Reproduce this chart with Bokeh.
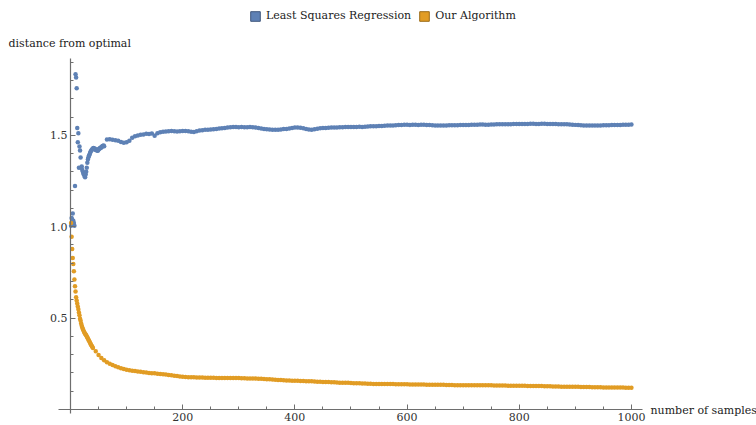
from bokeh.plotting import figure
from bokeh.models import (LinearAxis, FixedTicker, Legend, LegendItem, Label,
                          Range1d, ColumnDataSource, PrintfTickFormatter)
from bokeh.embed import file_html
from bokeh.resources import INLINE

# ---------------- data ----------------
ls_n_early = list(range(1, 61))
ls_v_early = [1.005, 1.047, 1.040, 1.072, 1.032, 1.020, 1.005, 1.223, 1.834, 1.816,
              1.758, 1.540, 1.462, 1.511, 1.322, 1.439, 1.417, 1.379, 1.322, 1.330,
              1.310, 1.300, 1.290, 1.286, 1.277, 1.270, 1.286, 1.300, 1.322, 1.350,
              1.368, 1.380, 1.390, 1.395, 1.405, 1.412, 1.417, 1.420, 1.425, 1.428,
              1.430, 1.426, 1.428, 1.424, 1.420, 1.422, 1.418, 1.415, 1.417, 1.422,
              1.426, 1.428, 1.430, 1.433, 1.433, 1.438, 1.441, 1.441, 1.444, 1.440]
ls_n_late = list(range(65, 1001, 5))
ls_v_late = [1.477, 1.478, 1.476, 1.473, 1.470, 1.463, 1.459, 1.462, 1.470, 1.486,
             1.495, 1.499, 1.503, 1.505, 1.508, 1.507, 1.510, 1.498, 1.511, 1.517,
             1.520, 1.521, 1.522, 1.523, 1.522, 1.521, 1.522, 1.523, 1.523, 1.522,
             1.520, 1.518, 1.522, 1.526, 1.528, 1.530, 1.531, 1.532, 1.533, 1.535,
             1.537, 1.538, 1.540, 1.542, 1.544, 1.545, 1.545, 1.544, 1.545, 1.544,
             1.544, 1.545, 1.544, 1.542, 1.540, 1.537, 1.535, 1.533, 1.532, 1.531,
             1.531, 1.531, 1.532, 1.534, 1.535, 1.537, 1.540, 1.542, 1.543, 1.541,
             1.538, 1.535, 1.532, 1.531, 1.533, 1.536, 1.538, 1.540, 1.540, 1.541,
             1.542, 1.543, 1.543, 1.544, 1.544, 1.545, 1.546, 1.546, 1.545, 1.546,
             1.547, 1.546, 1.547, 1.548, 1.549, 1.549, 1.550, 1.551, 1.551, 1.552,
             1.553, 1.553, 1.554, 1.555, 1.556, 1.557, 1.558, 1.558, 1.557, 1.558,
             1.558, 1.557, 1.558, 1.558, 1.557, 1.556, 1.555, 1.554, 1.553, 1.553,
             1.554, 1.554, 1.555, 1.555, 1.555, 1.555, 1.556, 1.556, 1.557, 1.557,
             1.558, 1.558, 1.558, 1.559, 1.559, 1.558, 1.558, 1.559, 1.559, 1.560,
             1.560, 1.560, 1.561, 1.561, 1.561, 1.562, 1.562, 1.562, 1.562, 1.562,
             1.562, 1.563, 1.563, 1.562, 1.562, 1.563, 1.563, 1.562, 1.562, 1.562,
             1.562, 1.561, 1.561, 1.560, 1.560, 1.559, 1.558, 1.557, 1.556, 1.555,
             1.554, 1.553, 1.553, 1.553, 1.553, 1.554, 1.554, 1.555, 1.555, 1.555,
             1.556, 1.556, 1.557, 1.557, 1.558, 1.558, 1.558, 1.559]

alg_n_early = list(range(1, 41))
alg_v_early = [1.020, 0.945, 0.878, 0.829, 0.796, 0.756, 0.711, 0.674, 0.645, 0.614,
               0.596, 0.580, 0.564, 0.548, 0.530, 0.515, 0.497, 0.485, 0.470, 0.458,
               0.448, 0.440, 0.433, 0.426, 0.420, 0.415, 0.410, 0.406, 0.400, 0.394,
               0.388, 0.382, 0.376, 0.370, 0.364, 0.358, 0.352, 0.347, 0.342, 0.337]
alg_n_late = list(range(45, 1001, 5))
alg_v_late = [0.318, 0.298, 0.282, 0.270, 0.259, 0.250, 0.243, 0.236, 0.231, 0.226,
              0.222, 0.218, 0.215, 0.212, 0.210, 0.208, 0.206, 0.204, 0.202, 0.200,
              0.199, 0.198, 0.196, 0.194, 0.193, 0.191, 0.189, 0.187, 0.185, 0.183,
              0.181, 0.179, 0.178, 0.177, 0.176, 0.176, 0.175, 0.175, 0.175, 0.174,
              0.174, 0.174, 0.174, 0.173, 0.173, 0.173, 0.173, 0.173, 0.173, 0.172,
              0.172, 0.172, 0.171, 0.171, 0.170, 0.170, 0.169, 0.169, 0.168, 0.168,
              0.167, 0.166, 0.165, 0.164, 0.163, 0.162, 0.161, 0.160, 0.159, 0.158,
              0.157, 0.157, 0.157, 0.156, 0.156, 0.155, 0.155, 0.154, 0.153, 0.152,
              0.152, 0.151, 0.150, 0.150, 0.149, 0.149, 0.148, 0.147, 0.147, 0.146,
              0.146, 0.145, 0.144, 0.143, 0.143, 0.142, 0.142, 0.141, 0.141, 0.140,
              0.140, 0.140, 0.139, 0.139, 0.139, 0.139, 0.139, 0.138, 0.138, 0.138,
              0.138, 0.138, 0.137, 0.137, 0.137, 0.137, 0.137, 0.137, 0.136, 0.136,
              0.136, 0.135, 0.135, 0.135, 0.135, 0.134, 0.134, 0.134, 0.133, 0.133,
              0.133, 0.133, 0.133, 0.132, 0.132, 0.132, 0.132, 0.132, 0.132, 0.132,
              0.132, 0.132, 0.131, 0.131, 0.131, 0.131, 0.131, 0.130, 0.130, 0.130,
              0.130, 0.130, 0.130, 0.130, 0.129, 0.129, 0.129, 0.128, 0.128, 0.128,
              0.127, 0.127, 0.127, 0.126, 0.126, 0.126, 0.125, 0.125, 0.125, 0.124,
              0.124, 0.124, 0.124, 0.123, 0.123, 0.123, 0.123, 0.122, 0.122, 0.122,
              0.122, 0.121, 0.121, 0.121, 0.120, 0.120, 0.120, 0.120, 0.120, 0.119,
              0.119, 0.119]

series_names = ["Least Squares Regression", "Our Algorithm"]
x_ticks = [200, 400, 600, 800, 1000]
x_minor = list(range(50, 1001, 50))
y_ticks = [0.5, 1.0, 1.5]
y_minor = [round(0.1 * i, 1) for i in range(1, 20)]

BLUE = "#5E81B5"
ORANGE = "#E19C24"
FONT = "DejaVu Serif"
AX = "#6e6e6e"

ls_src = ColumnDataSource(dict(n=ls_n_early + ls_n_late, v=ls_v_early + ls_v_late))
alg_src = ColumnDataSource(dict(n=alg_n_early + alg_n_late, v=alg_v_early + alg_v_late))

# frame covers the whole canvas; axes are drawn at the origin (fixed_location)
p = figure(width=756, height=425, x_range=Range1d(-124.8, 1223.0),
           y_range=Range1d(-0.0875, 2.2374),
           output_backend="svg", toolbar_location=None,
           x_axis_location=None, y_axis_location=None,
           min_border_left=0, min_border_right=0, min_border_top=0, min_border_bottom=0)
p.outline_line_color = None
p.grid.visible = False
p.background_fill_color = "white"
p.border_fill_color = "white"

r_ls = p.scatter("n", "v", source=ls_src, size=4.5, fill_color=BLUE, line_color=None)
r_alg = p.scatter("n", "v", source=alg_src, size=4.5, fill_color=ORANGE, line_color=None)

yaxis = LinearAxis(fixed_location=0, bounds=(-0.022, 1.92),
                   ticker=FixedTicker(ticks=y_ticks, minor_ticks=y_minor),
                   formatter=PrintfTickFormatter(format="%.1f"))
xaxis = LinearAxis(fixed_location=0, bounds=(-21.5, 1020),
                   ticker=FixedTicker(ticks=x_ticks, minor_ticks=x_minor),
                   formatter=PrintfTickFormatter(format="%d"))
for ax in (xaxis, yaxis):
    ax.axis_line_color = AX
    ax.axis_line_width = 1.2
    ax.major_tick_line_color = AX
    ax.minor_tick_line_color = AX
    ax.major_tick_in = 5
    ax.major_tick_out = 0
    ax.minor_tick_in = 3
    ax.minor_tick_out = 0
    ax.major_label_text_font = FONT
    ax.major_label_text_font_size = "11px"
    ax.major_label_text_color = "#333333"
    ax.major_label_standoff = 3
p.add_layout(yaxis, "left")
p.add_layout(xaxis, "below")

# legend swatches (a single NaN quad each, so only the legend shows them)
nan = float("nan")
sq_ls = p.quad(left=[nan], right=[nan], bottom=[nan], top=[nan],
               fill_color=BLUE, line_color="#40587d")
sq_alg = p.quad(left=[nan], right=[nan], bottom=[nan], top=[nan],
                fill_color=ORANGE, line_color="#9c6c18")
legend = Legend(items=[LegendItem(label=series_names[0], renderers=[sq_ls]),
                       LegendItem(label=series_names[1], renderers=[sq_alg])],
                orientation="horizontal", location=(249, 403),
                glyph_width=12, glyph_height=12, label_standoff=5, spacing=7,
                label_height=12, label_width=10,
                padding=0, margin=0, border_line_color=None, background_fill_alpha=0,
                label_text_font=FONT, label_text_font_size="11px",
                label_text_color="#222222")
p.add_layout(legend)

p.add_layout(Label(x=-110.5, y=2.002, text="distance from optimal",
                   text_baseline="middle", text_font=FONT, text_font_size="11px",
                   text_color="#222222"))
p.add_layout(Label(x=1034, y=-0.005, text="number of samples",
                   text_baseline="middle", text_font=FONT, text_font_size="11px",
                   text_color="#222222"))

open("out.html", "w").write(file_html(p, INLINE))
